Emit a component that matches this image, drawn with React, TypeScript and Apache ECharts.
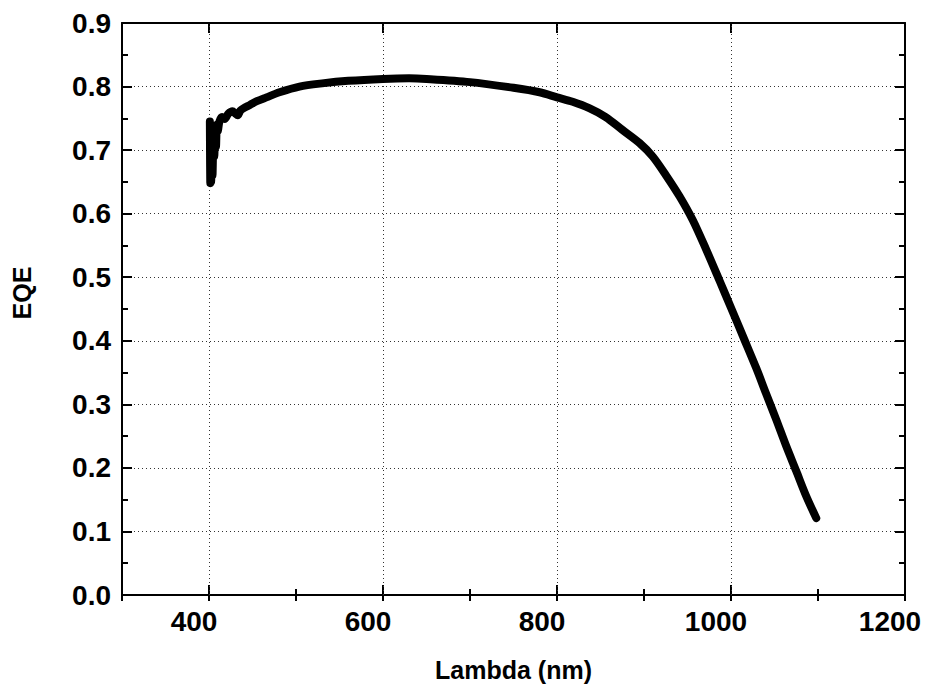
import React, { useEffect, useRef } from 'react';
import * as echarts from 'echarts';

// Wavelength (nm) and EQE
const wavelength = [
  401, 401.5, 402, 402.5, 403, 404, 405, 406, 407, 408, 409, 410, 412, 415, 418, 422, 427, 430, 433, 436,
  440, 447, 455, 466, 481, 504, 530, 560, 600, 630, 650, 700, 750, 780, 800, 818, 837, 856, 875, 895,
  910, 925, 941, 956, 971, 987, 1000, 1015, 1029, 1040, 1052, 1063, 1075, 1086, 1098,
];
const eqe = [
  0.745, 0.648, 0.74, 0.65, 0.72, 0.66, 0.71, 0.69, 0.73, 0.705, 0.74, 0.73, 0.745, 0.752, 0.749, 0.757, 0.761, 0.758, 0.755, 0.762,
  0.766, 0.771, 0.777, 0.783, 0.791, 0.8, 0.805, 0.809, 0.812, 0.813, 0.812, 0.807, 0.798, 0.791, 0.783, 0.776, 0.766, 0.752, 0.732, 0.711,
  0.69, 0.661, 0.627, 0.59, 0.545, 0.494, 0.452, 0.403, 0.357, 0.318, 0.276, 0.236, 0.195, 0.157, 0.121,
];
const xMajorTicks = [400, 600, 800, 1000, 1200];
const xGridLines = [400, 600, 800, 1000];
const xTitle = 'Lambda (nm)';
const yTitle = 'EQE';

export default function App() {
  const ref = useRef<HTMLDivElement>(null);
  useEffect(() => {
    const chart = echarts.init(ref.current!, null, { renderer: 'svg' });
    const font = '"Liberation Sans", Arial, Helvetica, sans-serif';
    const black = '#000';
    const axisLine = { show: true, onZero: false, lineStyle: { color: black, width: 2 } };
    const majorTick = { show: true, inside: true, length: 10, lineStyle: { color: black, width: 2 } };
    const minorTickStyle = { show: true, inside: true, length: 6, lineStyle: { color: black, width: 2 } };
    const dottedStyle = { type: [1, 3], color: '#333', width: 1 };
    const labelStyle = { color: black, fontSize: 28, fontWeight: 'bold', fontFamily: font };
    const xBase = { type: 'value', min: 300, max: 1200, interval: 100 };
    const yBase = { type: 'value', min: 0, max: 0.9, interval: 0.1 };

    chart.setOption({
      animation: false,
      backgroundColor: '#fff',
      grid: { left: 122, right: 24, top: 23, bottom: 97, containLabel: false },
      xAxis: [
        {
          ...xBase,
          position: 'bottom',
          axisLine,
          axisTick: { ...majorTick, customValues: xMajorTicks },
          axisLabel: {
            ...labelStyle,
            customValues: xMajorTicks,
            margin: 12,
            padding: [0, 30, 0, 0],
            formatter: (v: number) => String(v),
          },
          splitLine: { show: false },
          name: xTitle,
          nameLocation: 'middle',
          nameGap: 62,
          nameTextStyle: { color: black, fontSize: 25, fontWeight: 'bold', fontFamily: font },
        },
        {
          ...xBase,
          position: 'bottom',
          axisLine: { show: false },
          axisTick: minorTickStyle,
          axisLabel: { show: false },
          splitLine: { show: false },
        },
        {
          ...xBase,
          position: 'top',
          axisLine,
          axisTick: { ...majorTick, customValues: xMajorTicks },
          axisLabel: { show: false },
          splitLine: { show: false },
        },
        {
          ...xBase,
          position: 'top',
          axisLine: { show: false },
          axisTick: minorTickStyle,
          axisLabel: { show: false },
          splitLine: { show: false },
        },
      ],
      yAxis: [
        {
          ...yBase,
          position: 'left',
          axisLine,
          axisTick: majorTick,
          minorTick: { ...minorTickStyle, splitNumber: 2 },
          axisLabel: { ...labelStyle, margin: 11, formatter: (v: number) => v.toFixed(1) },
          splitLine: { show: true, lineStyle: dottedStyle },
          name: yTitle,
          nameLocation: 'middle',
          nameGap: 88,
          nameTextStyle: { color: black, fontSize: 25, fontWeight: 'bold', fontFamily: font, padding: [0, 0, 0, 32] },
        },
        {
          ...yBase,
          position: 'right',
          axisLine,
          axisTick: majorTick,
          minorTick: { ...minorTickStyle, splitNumber: 2 },
          axisLabel: { show: false },
          splitLine: { show: false },
        },
      ],
      series: [
        {
          type: 'line',
          xAxisIndex: 0,
          yAxisIndex: 0,
          data: wavelength.map((w, i) => [w, eqe[i]]),
          showSymbol: false,
          smooth: 0.3,
          lineStyle: { color: black, width: 8, cap: 'round', join: 'round' },
          itemStyle: { color: black },
          markLine: {
            silent: true,
            symbol: 'none',
            z: 1,
            label: { show: false },
            lineStyle: dottedStyle,
            emphasis: { disabled: true },
            data: xGridLines.map((v) => ({ xAxis: v })),
          },
        },
      ],
    });
    return () => chart.dispose();
  }, []);
  return <div ref={ref} style={{ position: 'fixed', left: 0, top: 0, width: 929, height: 692 }} />;
}
